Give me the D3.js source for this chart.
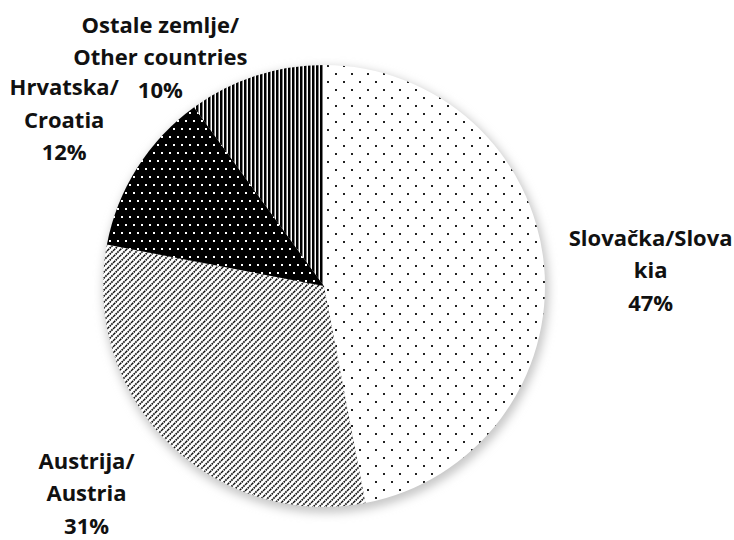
<!DOCTYPE html>
<html>
<head>
<meta charset="utf-8">
<script src="https://cdn.jsdelivr.net/npm/d3@7"></script>
<style>
  body { margin: 0; background: #fff; }
  svg { display: block; }
</style>
</head>
<body>
<div id="graphicContainer"></div>
<script>
var countries = ["Slovačka/Slova|kia", "Austrija/|Austria", "Hrvatska/|Croatia", "Ostale zemlje/|Other countries"]
var shares = [47, 31, 12, 10]
var patterns = ["dots", "diag", "blackdots", "vstripes"]

var width = 734
var height = 540
var cx = 324, cy = 286, radius = 221

var svg = d3.select("#graphicContainer")
  .append("svg")
  .attr("width", width)
  .attr("height", height)
  .style("font", "700 22px 'Open Sans', sans-serif")

var defs = svg.append("defs")

// shadow around the pie
var filter = defs.append("filter")
  .attr("id", "shadow")
  .attr("x", "-20%").attr("y", "-20%")
  .attr("width", "140%").attr("height", "140%")
filter.append("feGaussianBlur").attr("stdDeviation", 5)

// sparse dots
var p1 = defs.append("pattern").attr("id", "dots")
  .attr("patternUnits", "userSpaceOnUse").attr("width", 16).attr("height", 16)
p1.append("rect").attr("width", 16).attr("height", 16).attr("fill", "#fff")
p1.append("rect").attr("x", 3).attr("y", 3).attr("width", 2).attr("height", 2).attr("fill", "#222")
p1.append("rect").attr("x", 11).attr("y", 11).attr("width", 2).attr("height", 2).attr("fill", "#222")

// upward diagonal
var p2 = defs.append("pattern").attr("id", "diag")
  .attr("patternUnits", "userSpaceOnUse").attr("width", 6).attr("height", 6)
p2.append("rect").attr("width", 6).attr("height", 6).attr("fill", "#fff")
p2.append("path").attr("d", "M-1,1 L1,-1 M0,6 L6,0 M5,7 L7,5")
  .attr("stroke", "#111").attr("stroke-width", 1.7).attr("stroke-dasharray", "1.6 0.8")

// black with white dots
var p3 = defs.append("pattern").attr("id", "blackdots")
  .attr("patternUnits", "userSpaceOnUse").attr("width", 8).attr("height", 16)
p3.append("rect").attr("width", 8).attr("height", 16).attr("fill", "#000")
p3.append("rect").attr("x", 1).attr("y", 2).attr("width", 2).attr("height", 2).attr("fill", "#fff")
p3.append("rect").attr("x", 5).attr("y", 10).attr("width", 2).attr("height", 2).attr("fill", "#fff")

// vertical stripes
var p4 = defs.append("pattern").attr("id", "vstripes")
  .attr("patternUnits", "userSpaceOnUse").attr("width", 4).attr("height", 4)
p4.append("rect").attr("width", 4).attr("height", 4).attr("fill", "#fff")
p4.append("rect").attr("width", 2.5).attr("height", 4).attr("fill", "#000")

var pie = d3.pie().sort(null).value(function (d) { return d })
var arcs = pie(shares)

var arc = d3.arc().innerRadius(0).outerRadius(radius)
var labelArc = d3.arc().innerRadius(radius * 1.43).outerRadius(radius * 1.43)

var g = svg.append("g").attr("transform", "translate(" + cx + "," + cy + ")")

g.append("circle")
  .attr("cx", 2).attr("cy", 4)
  .attr("r", radius + 2)
  .attr("fill", "#c8c8c8")
  .attr("filter", "url(#shadow)")

g.selectAll("path.slice")
  .data(arcs)
  .join("path")
  .attr("class", "slice")
  .attr("d", arc)
  .attr("fill", function (d, i) { return "url(#" + patterns[i] + ")" })

// label nudges (layout only)
var nudge = [[12, 14], [-14, -16], [7, 3], [-66, 72]]

var label = g.selectAll("text.lbl")
  .data(arcs)
  .join("text")
  .attr("class", "lbl")
  .attr("text-anchor", "middle")
  .attr("fill", "#111")
  .attr("transform", function (d, i) {
    var c = labelArc.centroid(d)
    return "translate(" + (c[0] + nudge[i][0]) + "," + (c[1] + nudge[i][1]) + ")"
  })

label.each(function (d, i) {
  var lines = countries[i].split("|").concat([shares[i] + "%"])
  var t = d3.select(this)
  lines.forEach(function (line, k) {
    t.append("tspan")
      .attr("x", 0)
      .attr("y", (k - 1) * 32.5 + 8)
      .text(line)
  })
})
</script>
</body>
</html>
